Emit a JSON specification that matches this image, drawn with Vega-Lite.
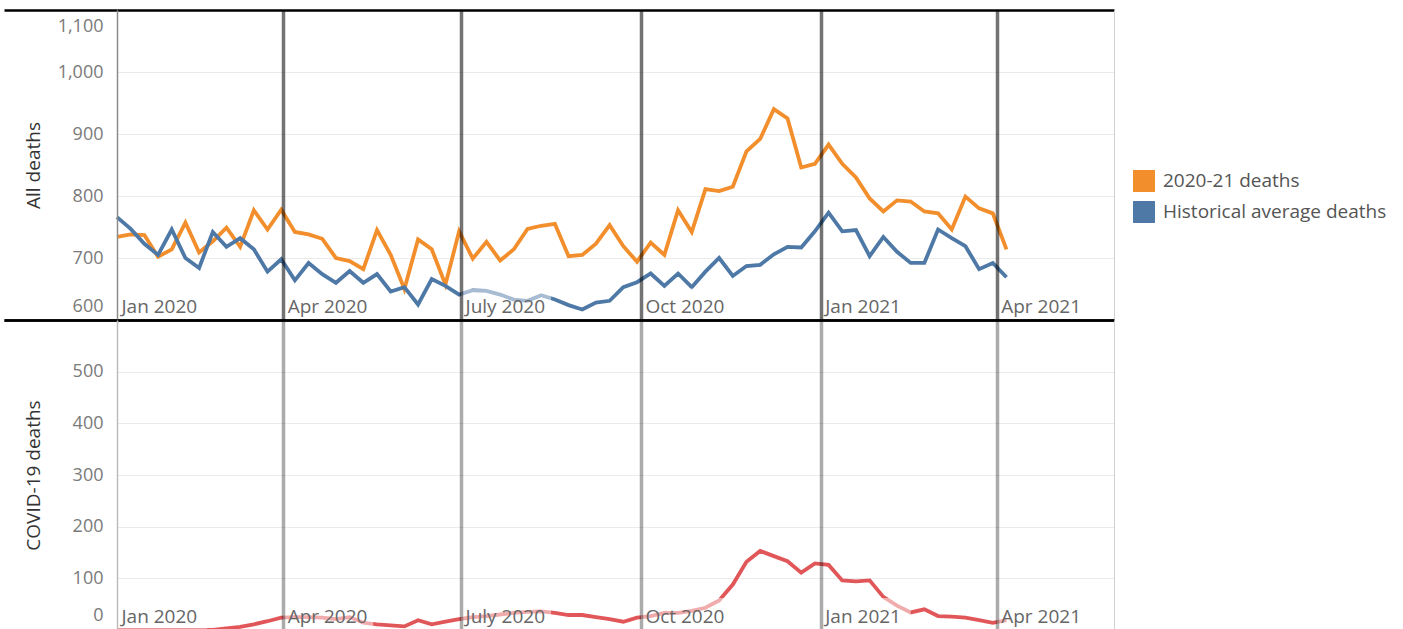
{
  "$schema": "https://vega.github.io/schema/vega-lite/v6.json",
  "background": "white",
  "padding": {"left": 2, "top": 8, "right": 0, "bottom": 0},
  "config": {
    "font": "Open Sans",
    "view": {"stroke": null},
    "axis": {"labelFont": "Open Sans", "titleFont": "Open Sans"},
    "legend": {"labelFont": "Open Sans"}
  },
  "datasets": {
    "q": [
      {"q": "2020-01-07"}, {"q": "2020-04-01"}, {"q": "2020-07-01"}, {"q": "2020-10-01"}, {"q": "2021-01-01"}, {"q": "2021-04-01"}
    ],
    "d": [
      {"date": "2020-01-07", "2020-21 deaths": 734, "Historical average deaths": 766, "covid": 0},
      {"date": "2020-01-14", "2020-21 deaths": 738, "Historical average deaths": 747, "covid": 0},
      {"date": "2020-01-21", "2020-21 deaths": 737, "Historical average deaths": 723, "covid": 0},
      {"date": "2020-01-28", "2020-21 deaths": 702, "Historical average deaths": 705, "covid": 0},
      {"date": "2020-02-04", "2020-21 deaths": 714, "Historical average deaths": 746, "covid": 0},
      {"date": "2020-02-11", "2020-21 deaths": 757, "Historical average deaths": 700, "covid": 0},
      {"date": "2020-02-18", "2020-21 deaths": 709, "Historical average deaths": 684, "covid": 0},
      {"date": "2020-02-25", "2020-21 deaths": 727, "Historical average deaths": 742, "covid": 0},
      {"date": "2020-03-03", "2020-21 deaths": 749, "Historical average deaths": 718, "covid": 3},
      {"date": "2020-03-10", "2020-21 deaths": 718, "Historical average deaths": 732, "covid": 6},
      {"date": "2020-03-17", "2020-21 deaths": 777, "Historical average deaths": 714, "covid": 11},
      {"date": "2020-03-24", "2020-21 deaths": 746, "Historical average deaths": 678, "covid": 17},
      {"date": "2020-03-31", "2020-21 deaths": 778, "Historical average deaths": 698, "covid": 24},
      {"date": "2020-04-07", "2020-21 deaths": 742, "Historical average deaths": 664, "covid": 25},
      {"date": "2020-04-14", "2020-21 deaths": 738, "Historical average deaths": 692, "covid": 25},
      {"date": "2020-04-21", "2020-21 deaths": 731, "Historical average deaths": 674, "covid": 24},
      {"date": "2020-04-28", "2020-21 deaths": 700, "Historical average deaths": 660, "covid": 21},
      {"date": "2020-05-05", "2020-21 deaths": 695, "Historical average deaths": 679, "covid": 25},
      {"date": "2020-05-12", "2020-21 deaths": 682, "Historical average deaths": 660, "covid": 14},
      {"date": "2020-05-19", "2020-21 deaths": 745, "Historical average deaths": 674, "covid": 11},
      {"date": "2020-05-26", "2020-21 deaths": 705, "Historical average deaths": 646, "covid": 9},
      {"date": "2020-06-02", "2020-21 deaths": 650, "Historical average deaths": 653, "covid": 7},
      {"date": "2020-06-09", "2020-21 deaths": 730, "Historical average deaths": 625, "covid": 19},
      {"date": "2020-06-16", "2020-21 deaths": 714, "Historical average deaths": 666, "covid": 11},
      {"date": "2020-06-23", "2020-21 deaths": 657, "Historical average deaths": 655, "covid": 16},
      {"date": "2020-06-30", "2020-21 deaths": 743, "Historical average deaths": 641, "covid": 21},
      {"date": "2020-07-07", "2020-21 deaths": 699, "Historical average deaths": 648, "covid": 25},
      {"date": "2020-07-14", "2020-21 deaths": 726, "Historical average deaths": 647, "covid": 27},
      {"date": "2020-07-21", "2020-21 deaths": 696, "Historical average deaths": 641, "covid": 30},
      {"date": "2020-07-28", "2020-21 deaths": 714, "Historical average deaths": 633, "covid": 33},
      {"date": "2020-08-04", "2020-21 deaths": 747, "Historical average deaths": 631, "covid": 35},
      {"date": "2020-08-11", "2020-21 deaths": 752, "Historical average deaths": 640, "covid": 36},
      {"date": "2020-08-18", "2020-21 deaths": 755, "Historical average deaths": 633, "covid": 33},
      {"date": "2020-08-25", "2020-21 deaths": 703, "Historical average deaths": 624, "covid": 29},
      {"date": "2020-09-01", "2020-21 deaths": 705, "Historical average deaths": 617, "covid": 29},
      {"date": "2020-09-08", "2020-21 deaths": 723, "Historical average deaths": 628, "covid": 25},
      {"date": "2020-09-15", "2020-21 deaths": 753, "Historical average deaths": 631, "covid": 21},
      {"date": "2020-09-22", "2020-21 deaths": 719, "Historical average deaths": 653, "covid": 16},
      {"date": "2020-09-29", "2020-21 deaths": 694, "Historical average deaths": 661, "covid": 24},
      {"date": "2020-10-06", "2020-21 deaths": 725, "Historical average deaths": 675, "covid": 27},
      {"date": "2020-10-13", "2020-21 deaths": 705, "Historical average deaths": 655, "covid": 33},
      {"date": "2020-10-20", "2020-21 deaths": 777, "Historical average deaths": 675, "covid": 33},
      {"date": "2020-10-27", "2020-21 deaths": 742, "Historical average deaths": 653, "covid": 37},
      {"date": "2020-11-03", "2020-21 deaths": 811, "Historical average deaths": 678, "covid": 43},
      {"date": "2020-11-10", "2020-21 deaths": 808, "Historical average deaths": 700, "covid": 57},
      {"date": "2020-11-17", "2020-21 deaths": 815, "Historical average deaths": 671, "covid": 88},
      {"date": "2020-11-24", "2020-21 deaths": 872, "Historical average deaths": 687, "covid": 132},
      {"date": "2020-12-01", "2020-21 deaths": 892, "Historical average deaths": 689, "covid": 153},
      {"date": "2020-12-08", "2020-21 deaths": 940, "Historical average deaths": 706, "covid": 143},
      {"date": "2020-12-15", "2020-21 deaths": 925, "Historical average deaths": 718, "covid": 133},
      {"date": "2020-12-22", "2020-21 deaths": 846, "Historical average deaths": 717, "covid": 111},
      {"date": "2020-12-29", "2020-21 deaths": 852, "Historical average deaths": 743, "covid": 129},
      {"date": "2021-01-05", "2020-21 deaths": 883, "Historical average deaths": 773, "covid": 126},
      {"date": "2021-01-12", "2020-21 deaths": 852, "Historical average deaths": 743, "covid": 96},
      {"date": "2021-01-19", "2020-21 deaths": 830, "Historical average deaths": 745, "covid": 94},
      {"date": "2021-01-26", "2020-21 deaths": 796, "Historical average deaths": 703, "covid": 96},
      {"date": "2021-02-02", "2020-21 deaths": 775, "Historical average deaths": 734, "covid": 64},
      {"date": "2021-02-09", "2020-21 deaths": 793, "Historical average deaths": 710, "covid": 47},
      {"date": "2021-02-16", "2020-21 deaths": 791, "Historical average deaths": 692, "covid": 34},
      {"date": "2021-02-23", "2020-21 deaths": 775, "Historical average deaths": 692, "covid": 40},
      {"date": "2021-03-02", "2020-21 deaths": 772, "Historical average deaths": 746, "covid": 27},
      {"date": "2021-03-09", "2020-21 deaths": 746, "Historical average deaths": 732, "covid": 26},
      {"date": "2021-03-16", "2020-21 deaths": 799, "Historical average deaths": 719, "covid": 24},
      {"date": "2021-03-23", "2020-21 deaths": 780, "Historical average deaths": 682, "covid": 19},
      {"date": "2021-03-30", "2020-21 deaths": 772, "Historical average deaths": 692, "covid": 14},
      {"date": "2021-04-06", "2020-21 deaths": 714, "Historical average deaths": 669, "covid": 19}
    ]
  },
  "data": {"name": "d"},
  "spacing": 0,
  "bounds": "flush",
  "vconcat": [
    {
      "width": 997,
      "height": 310,
      "layer": [
        {
          "transform": [{"fold": ["2020-21 deaths", "Historical average deaths"], "as": ["series", "deaths"]}],
          "mark": {"type": "line", "strokeWidth": 3.8},
          "encoding": {
            "x": {
              "field": "date", "type": "temporal",
              "scale": {"domain": [{"year": 2020, "month": 1, "date": 7, "utc": true}, {"year": 2021, "month": 5, "date": 31, "utc": true}], "nice": false, "padding": 0},
              "axis": {
                "values": [
                  {"year": 2020, "month": 1, "date": 7, "utc": true},
                  {"year": 2020, "month": 4, "date": 1, "utc": true},
                  {"year": 2020, "month": 7, "date": 1, "utc": true},
                  {"year": 2020, "month": 10, "date": 1, "utc": true},
                  {"year": 2021, "month": 1, "date": 1, "utc": true},
                  {"year": 2021, "month": 4, "date": 1, "utc": true},
                  {"year": 2021, "month": 5, "date": 31, "utc": true}
                ],
                "labelExpr": "datum.value > 1620000000000 ? '' : (utcmonth(datum.value) == 6 ? 'July ' : utcFormat(datum.value, '%b ')) + utcyear(datum.value)",
                "title": null, "orient": "bottom", "ticks": false, "tickSize": 0, "domain": false,
                "labelAlign": "left", "labelBaseline": "alphabetic", "labelPadding": -8, "labelOffset": 4,
                "labelFontSize": 19, "labelColor": "#666666", "labelFlush": false, "labelOverlap": false,
                "grid": true,
                "gridColor": {"condition": [{"test": "datum.value < 1580000000000", "value": "#8c8c8c"}, {"test": "datum.value > 1620000000000", "value": "#d0d0d0"}], "value": "rgba(0,0,0,0.55)"},
                "gridWidth": {"condition": [{"test": "datum.value < 1580000000000", "value": 1.5}, {"test": "datum.value > 1620000000000", "value": 1}], "value": 3.5},
                "zindex": 1
              }
            },
            "y": {
              "field": "deaths", "type": "quantitative",
              "scale": {"domain": [600, 1100], "nice": false, "zero": false},
              "axis": {
                "values": [600, 700, 800, 900, 1000, 1100], "format": ",d",
                "title": "All deaths", "titleFontSize": 19, "titleFontWeight": "normal", "titleColor": "#333333",
                "titleX": -78, "titleBaseline": "alphabetic", "titleAngle": -90, "titleAlign": "center",
                "labelFontSize": 18, "labelColor": "#7a7a7a", "labelPadding": -99, "labelAlign": "right", "labelBaseline": "middle",
                "labelOffset": {"condition": [{"test": "datum.value == 1100", "value": 16}, {"test": "datum.value == 600", "value": -14}], "value": 0},
                "ticks": true, "tickSize": 113, "tickWidth": 2.5,
                "tickColor": {"condition": {"test": "datum.value == 600 || datum.value == 1100", "value": "#000000"}, "value": "rgba(0,0,0,0)"},
                "domain": false, "grid": true,
                "gridColor": {"condition": {"test": "datum.value == 600 || datum.value == 1100", "value": "#000000"}, "value": "#ebebeb"},
                "gridWidth": {"condition": {"test": "datum.value == 600 || datum.value == 1100", "value": 2.5}, "value": 1},
                "labelFlush": false, "labelOverlap": false, "zindex": 0
              }
            },
            "color": {
              "field": "series", "type": "nominal",
              "scale": {"domain": ["2020-21 deaths", "Historical average deaths"], "range": ["#F28E2B", "#4E79A7"]},
              "legend": {
                "orient": "none", "legendX": 1016, "legendY": 160, "title": null,
                "symbolType": "square", "symbolSize": 484, "symbolStrokeWidth": 0,
                "labelFontSize": 19, "labelColor": "#555555", "labelOffset": 8, "labelLimit": 400,
                "rowPadding": 9, "padding": 0,
                "encode": {"symbols": {"update": {"fill": {"scale": "color", "field": "value"}, "fillOpacity": {"value": 1}, "strokeWidth": {"value": 0}}}}
              }
            }
          }
        },
        {
          "data": {"name": "q"},
          "mark": {"type": "bar", "width": 90, "xOffset": 45, "fill": "white", "fillOpacity": 0.5},
          "encoding": {
            "x": {"field": "q", "type": "temporal"},
            "y": {"datum": 602, "type": "quantitative"},
            "y2": {"datum": 651}
          }
        }
      ]
    },
    {
      "width": 997,
      "height": 310,
      "layer": [
        {
          "mark": {"type": "line", "strokeWidth": 3.8, "color": "#E15759"},
          "encoding": {
            "x": {
              "field": "date", "type": "temporal",
              "scale": {"domain": [{"year": 2020, "month": 1, "date": 7, "utc": true}, {"year": 2021, "month": 5, "date": 31, "utc": true}], "nice": false, "padding": 0},
              "axis": {
                "values": [
                  {"year": 2020, "month": 1, "date": 7, "utc": true},
                  {"year": 2020, "month": 4, "date": 1, "utc": true},
                  {"year": 2020, "month": 7, "date": 1, "utc": true},
                  {"year": 2020, "month": 10, "date": 1, "utc": true},
                  {"year": 2021, "month": 1, "date": 1, "utc": true},
                  {"year": 2021, "month": 4, "date": 1, "utc": true},
                  {"year": 2021, "month": 5, "date": 31, "utc": true}
                ],
                "labelExpr": "datum.value > 1620000000000 ? '' : (utcmonth(datum.value) == 6 ? 'July ' : utcFormat(datum.value, '%b ')) + utcyear(datum.value)",
                "title": null, "orient": "bottom", "ticks": false, "tickSize": 0, "domain": false,
                "labelAlign": "left", "labelBaseline": "alphabetic", "labelPadding": -8, "labelOffset": 4,
                "labelFontSize": 19, "labelColor": "#666666", "labelFlush": false, "labelOverlap": false,
                "grid": true,
                "gridColor": {"condition": [{"test": "datum.value < 1580000000000", "value": "#bdbdbd"}, {"test": "datum.value > 1620000000000", "value": "#d0d0d0"}], "value": "rgba(0,0,0,0.33)"},
                "gridWidth": {"condition": [{"test": "datum.value < 1580000000000", "value": 1.5}, {"test": "datum.value > 1620000000000", "value": 1}], "value": 3.5},
                "zindex": 1
              }
            },
            "y": {
              "field": "covid", "type": "quantitative",
              "scale": {"domain": [0, 600], "nice": false},
              "axis": {
                "values": [0, 100, 200, 300, 400, 500, 600],
                "labelExpr": "datum.value == 600 ? '' : datum.label",
                "title": "COVID-19 deaths", "titleFontSize": 19, "titleFontWeight": "normal", "titleColor": "#333333",
                "titleX": -78, "titleBaseline": "alphabetic", "titleAngle": -90, "titleAlign": "center",
                "labelFontSize": 18, "labelColor": "#7a7a7a", "labelPadding": -99, "labelAlign": "right", "labelBaseline": "middle",
                "labelOffset": {"condition": {"test": "datum.value == 0", "value": -15}, "value": 0},
                "ticks": true, "tickSize": 113, "tickWidth": 2.5,
                "tickColor": {"condition": {"test": "datum.value == 0 || datum.value == 600", "value": "#000000"}, "value": "rgba(0,0,0,0)"},
                "domain": false, "grid": true,
                "gridColor": {"condition": {"test": "datum.value == 0 || datum.value == 600", "value": "#000000"}, "value": "#ebebeb"},
                "gridWidth": {"condition": {"test": "datum.value == 0 || datum.value == 600", "value": 2.5}, "value": 1},
                "labelFlush": false, "labelOverlap": false, "zindex": 0
              }
            }
          }
        },
        {
          "data": {"name": "q"},
          "mark": {"type": "bar", "width": 90, "xOffset": 45, "fill": "white", "fillOpacity": 0.5},
          "encoding": {
            "x": {"field": "q", "type": "temporal"},
            "y": {"datum": 2.5, "type": "quantitative"},
            "y2": {"datum": 62}
          }
        }
      ]
    }
  ]
}
